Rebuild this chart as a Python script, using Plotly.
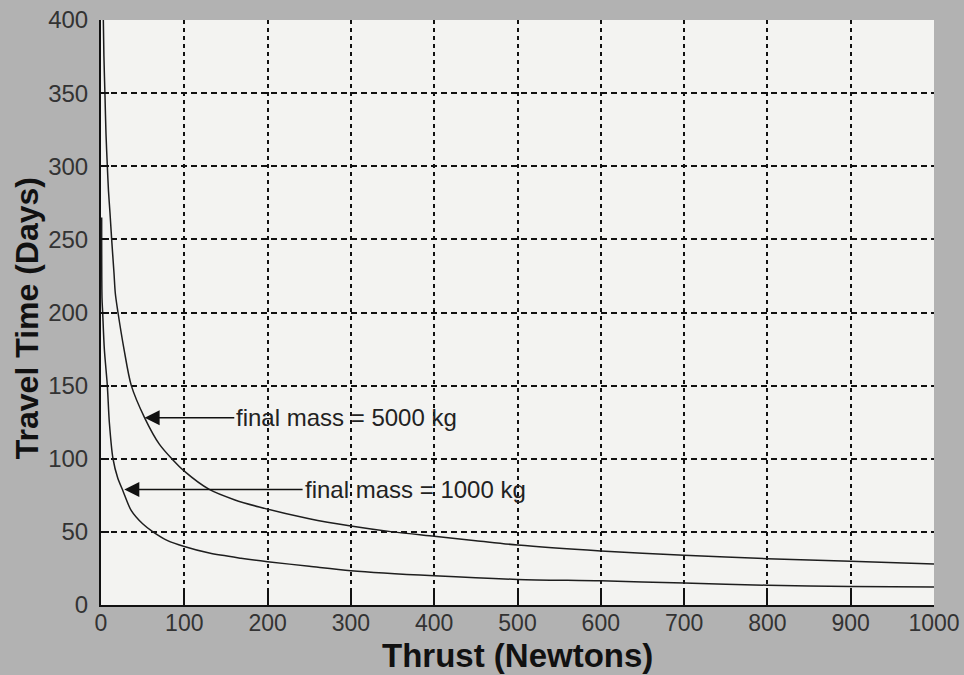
import plotly.graph_objects as go

# Thrust (N) vs travel time (days)
thrust_5000 = [2.8, 3.5, 4.8, 6, 7.6, 9, 10.8, 12.8, 15.6, 17.2, 20.4, 27.6, 36.4, 52.4, 70, 85,
               100, 130, 160, 190, 250, 300, 350, 400, 450, 500, 600, 700, 800, 900, 1000]
days_5000 = [400, 375, 348, 322, 300, 283, 268, 250, 227, 213, 200, 175, 150, 128, 110, 100,
             91.5, 79, 72, 67, 59, 54, 50, 47, 44, 41, 37, 34, 31.7, 30, 28]

thrust_1000 = [0.8, 1.2, 2, 4, 7.6, 10, 14.4, 20, 26.4, 36.4, 50, 62.4, 80, 100, 130, 168,
               200, 250, 300, 400, 500, 600, 700, 800, 900, 1000]
days_1000 = [265, 210, 200, 175, 150, 125, 100, 87, 78, 64.5, 55.5, 50, 44, 40, 35.5, 32,
             29.6, 26.5, 23.5, 20, 17.5, 16.5, 15, 13.5, 12.7, 12.3]

x_ticks = [0, 100, 200, 300, 400, 500, 600, 700, 800, 900, 1000]
y_ticks = [0, 50, 100, 150, 200, 250, 300, 350, 400]

label_5000 = "final mass = 5000 kg"
label_1000 = "final mass = 1000 kg"
arrow_5000 = {"tip": (52.4, 128), "tail": (160, 128)}
arrow_1000 = {"tip": (28, 79), "tail": (242, 79)}

FONT = "Liberation Sans, Arial, sans-serif"
LINE = "#1e1e1e"

fig = go.Figure()
for xs, ys in [(thrust_5000, days_5000), (thrust_1000, days_1000)]:
    fig.add_trace(go.Scatter(x=xs, y=ys, mode="lines",
                             line=dict(color=LINE, width=1.5, shape="spline", smoothing=0.8),
                             showlegend=False, hoverinfo="skip"))

for lab, arr in [(label_5000, arrow_5000), (label_1000, arrow_1000)]:
    fig.add_annotation(x=arr["tip"][0], y=arr["tip"][1], xref="x", yref="y",
                       ax=arr["tail"][0], ay=arr["tail"][1], axref="x", ayref="y",
                       text=lab, xanchor="left", yanchor="middle", showarrow=True,
                       arrowhead=2, arrowsize=2, arrowwidth=1.5, arrowcolor="#111",
                       font=dict(family=FONT, size=24, color="#222"))

fig.add_annotation(text="<b>Thrust (Newtons)</b>", xref="paper", yref="paper",
                   x=0.5, y=-0.1197, xanchor="center", yanchor="bottom", showarrow=False,
                   borderpad=0,
                   font=dict(family=FONT, size=33, color="#111"))
fig.add_annotation(text="<b>Travel Time (Days)</b>", xref="paper", yref="paper",
                   x=-0.089, y=0.49, xanchor="center", yanchor="middle", showarrow=False,
                   textangle=-90,
                   font=dict(family=FONT, size=32, color="#111"))

fig.update_layout(
    width=964, height=675, autosize=False,
    margin=dict(l=101, r=30, t=20, b=70),
    paper_bgcolor="#b2b2b2",
    plot_bgcolor="#f3f3f1",
    xaxis=dict(range=[0, 1000], tickvals=x_ticks, ticks="inside", ticklen=13, tickwidth=1.5,
               tickcolor="#111", showline=True, linecolor="#111", linewidth=2,
               showgrid=True, gridcolor="#111", gridwidth=2, griddash="4px,4px",
               zeroline=False, tickfont=dict(family=FONT, size=23, color="#333"),
               ticklabelstandoff=-4, automargin=False),
    yaxis=dict(range=[0, 400], tickvals=y_ticks, ticks="inside", ticklen=8, tickwidth=1.5,
               tickcolor="#111", showline=True, linecolor="#111", linewidth=2,
               showgrid=True, gridcolor="#111", gridwidth=1.5, griddash="6px,4px",
               zeroline=False, tickfont=dict(family=FONT, size=24, color="#333"),
               ticklabelstandoff=6, automargin=False),
)

fig.write_html("out.html")
